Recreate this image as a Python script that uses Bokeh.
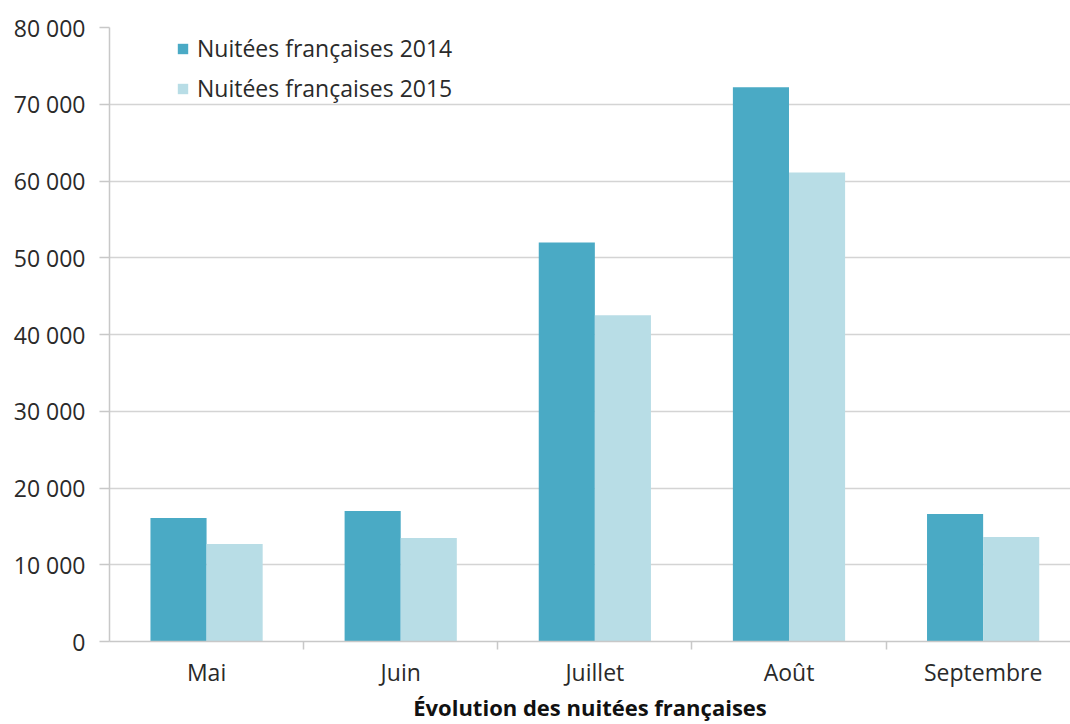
from bokeh.plotting import figure
from bokeh.models import Range1d, FixedTicker, Legend, LegendItem, ColumnDataSource
from bokeh.embed import file_html
from bokeh.resources import INLINE

months = ["Mai", "Juin", "Juillet", "Août", "Septembre"]
nuitees_2014 = [16100, 17000, 52000, 72200, 16600]
nuitees_2015 = [12700, 13500, 42500, 61100, 13600]
series_names = ["Nuitées françaises 2014", "Nuitées françaises 2015"]
y_ticks = [0, 10000, 20000, 30000, 40000, 50000, 60000, 70000, 80000]
y_labels = ["0", "10 000", "20 000", "30 000", "40 000", "50 000", "60 000", "70 000", "80 000"]

FONT = "Open Sans"
C14 = "#4aaac5"
C15 = "#b8dde6"

centers = [i + 0.5 for i in range(len(months))]
bw = 0.289
src = ColumnDataSource(dict(
    x14=[c - bw / 2 for c in centers],
    x15=[c + bw / 2 for c in centers],
    v14=nuitees_2014,
    v15=nuitees_2015,
))

p = figure(width=1070, height=724, output_backend="svg", toolbar_location=None,
           x_range=Range1d(0, 4.95), y_range=Range1d(0, 80000),
           min_border_top=27, min_border_right=0, min_border_left=109,
           min_border_bottom=80,
           background_fill_color="white", border_fill_color="white")
p.outline_line_color = None

r14 = p.vbar(x="x14", top="v14", width=bw, source=src, fill_color=C14, line_color=None)
r15 = p.vbar(x="x15", top="v15", width=bw, source=src, fill_color=C15, line_color=None)

# y axis
p.yaxis.ticker = FixedTicker(ticks=y_ticks)
p.yaxis.major_label_overrides = {t: l for t, l in zip(y_ticks, y_labels)}
p.yaxis.major_label_text_font = FONT
p.yaxis.major_label_text_font_size = "23px"
p.yaxis.major_label_text_color = "#2a2a2a"
p.yaxis.axis_line_color = "#c8c8c8"
p.yaxis.axis_line_width = 1.5
p.yaxis.major_tick_line_color = "#c8c8c8"
p.yaxis.major_tick_line_width = 1.5
p.yaxis.major_tick_out = 10
p.yaxis.major_tick_in = 0
p.yaxis.minor_tick_line_color = None
p.yaxis.major_label_standoff = 14

# x axis
p.xaxis.ticker = FixedTicker(ticks=centers, minor_ticks=[1, 2, 3, 4])
p.xaxis.major_label_overrides = {c: m for c, m in zip(centers, months)}
p.xaxis.major_label_text_font = FONT
p.xaxis.major_label_text_font_size = "23px"
p.xaxis.major_label_text_color = "#2a2a2a"
p.xaxis.major_label_text_line_height = 1.0
p.xaxis.major_tick_line_color = None
p.xaxis.major_tick_out = 0
p.xaxis.minor_tick_line_color = "#c8c8c8"
p.xaxis.minor_tick_line_width = 1.5
p.xaxis.minor_tick_out = 8
p.xaxis.minor_tick_in = 0
p.xaxis.axis_line_color = "#c8c8c8"
p.xaxis.axis_line_width = 1.5
p.xaxis.major_label_standoff = 6
p.xaxis.axis_label = "Évolution des nuitées françaises"
p.xaxis.axis_label_text_font = FONT
p.xaxis.axis_label_text_font_style = "bold"
p.xaxis.axis_label_text_font_size = "22px"
p.xaxis.axis_label_text_color = "#111111"
p.xaxis.axis_label_text_line_height = 1.0
p.xaxis.axis_label_standoff = 1

p.xgrid.grid_line_color = None
p.ygrid.ticker = FixedTicker(ticks=y_ticks)
p.ygrid.grid_line_color = "#d4d4d4"
p.ygrid.grid_line_width = 1.5

legend = Legend(items=[LegendItem(label=series_names[0], renderers=[r14]),
                       LegendItem(label=series_names[1], renderers=[r15])],
                location=(67, 537))
legend.label_text_font = FONT
legend.label_text_font_size = "23px"
legend.label_text_color = "#2a2a2a"
legend.glyph_width = 13
legend.glyph_height = 13
legend.label_height = 20
legend.spacing = 8
legend.padding = 5
legend.margin = 0
legend.label_standoff = 8
legend.border_line_color = None
legend.background_fill_alpha = 0
p.add_layout(legend)

open("out.html", "w").write(file_html(p, INLINE))
